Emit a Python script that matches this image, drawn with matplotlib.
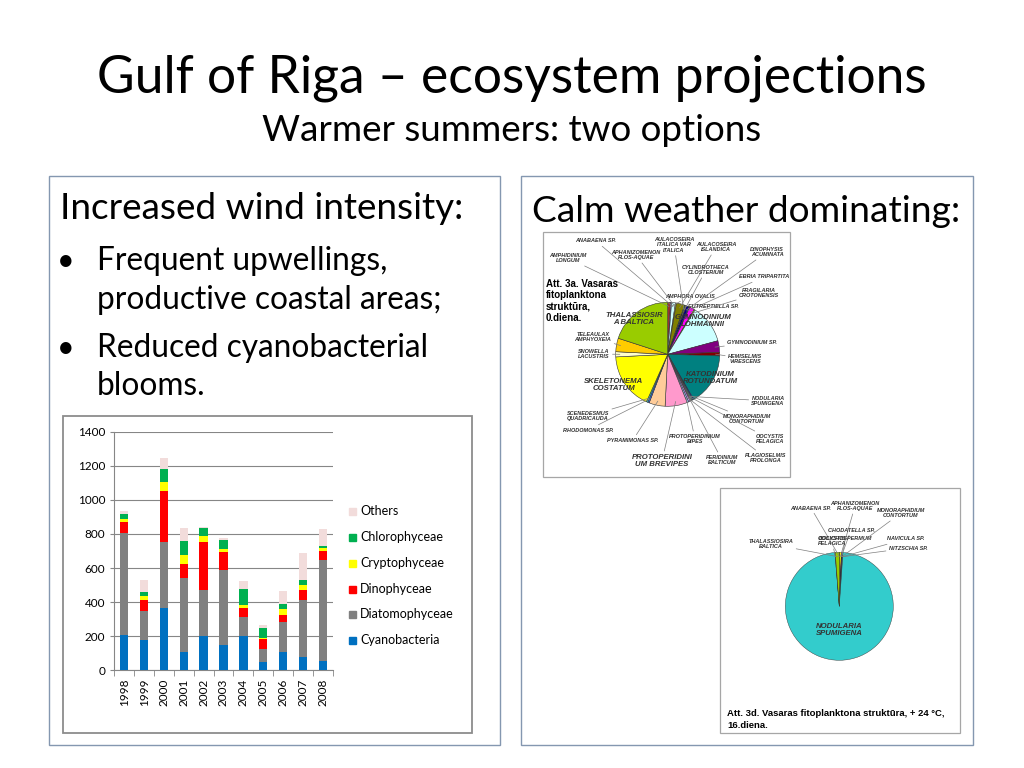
import numpy as np
import matplotlib.pyplot as plt
from matplotlib.patches import Rectangle

# stacked bar data (cells / biomass per year)
years = ['1998', '1999', '2000', '2001', '2002', '2003', '2004', '2005', '2006', '2007', '2008']
groups = ['Cyanobacteria', 'Diatomophyceae', 'Dinophyceae', 'Cryptophyceae', 'Chlorophyceae', 'Others']
cyano = [205, 175, 365, 110, 200, 147, 200, 51, 110, 80, 57]
diatom = [600, 175, 390, 432, 270, 440, 110, 74, 172, 332, 590]
dino = [65, 60, 297, 80, 280, 105, 53, 57, 43, 61, 53]
crypto = [15, 27, 55, 56, 40, 20, 21, 6, 35, 25, 19]
chloro = [30, 25, 72, 80, 43, 52, 92, 62, 31, 32, 12]
others = [20, 65, 65, 77, 10, 14, 49, 16, 76, 156, 98]
bar_colors = ['#0070c0', '#808080', '#ff0000', '#ffff00', '#00b050', '#f2dcdb']

# pie 1: day 0 structure, clockwise from top (percent)
pie1_names = ['AMPHIDINIUM\nLONGUM', 'AMPHORA OVALIS', 'ANABAENA SP.', 'APHANIZOMENON\nFLOS-AQUAE',
              'AULACOSEIRA\nISLANDICA', 'AULACOSEIRA\nITALICA VAR\nITALICA', 'CYLINDROTHECA\nCLOSTERIUM',
              'DINOPHYSIS\nACUMINATA', 'EBRIA TRIPARTITA', 'EUTREPTIELLA SP.', 'FRAGILARIA\nCROTONENSIS',
              'GYMNODINIUM\nLOHMANNII', 'GYMNODINIUM SP.', 'HEMISELMIS\nVIRESCENS', 'KATODINIUM\nROTUNDATUM',
              'MONORAPHIDIUM\nCONTORTUM', 'NODULARIA\nSPUMIGENA', 'OOCYSTIS\nPELAGICA', 'PERIDINIUM\nBALTICUM',
              'PLAGIOSELMIS\nPROLONGA', 'PROTOPERIDINIUM\nBIPES', 'PROTOPERIDINI\nUM BREVIPES',
              'PYRAMIMONAS SP.', 'RHODOMONAS SP.', 'SCENEDESMUS\nQUADRICAUDA', 'SKELETONEMA\nCOSTATUM',
              'SNOWELLA\nLACUSTRIS', 'TELEAULAX\nAMPHYOXEIA', 'THALASSIOSIR\nA BALTICA']
pie1_share = [0.9, 0.3, 1.2, 0.3, 2.6, 0.3, 0.3, 0.8, 0.3, 1.5, 0.3,
              12.0, 3.6, 1.1, 16.2, 0.3, 0.3, 0.3, 0.3, 0.5, 0.5, 6.9,
              5.0, 0.45, 0.45, 17.5, 1.6, 4.2, 20.0]
pie1_colors = ['#993333', '#cc99ff', '#ccffff', '#ffff99', '#808000', '#339966', '#ffcc99',
               '#000080', '#0000ff', '#ff00ff', '#ffff00', '#ccffff', '#800080', '#800000', '#008080',
               '#0000ff', '#33cccc', '#ccffcc', '#ff99cc', '#cc99ff', '#99ccff', '#ff99cc',
               '#ffcc99', '#3366ff', '#33cccc', '#ffff00', '#ffffcc', '#ffcc00', '#99cc00']

# pie 2: +24 C, day 16
pie2_names = ['ANABAENA SP.', 'APHANIZOMENON\nFLOS-AQUAE', 'CHODATELLA SP.', 'DOLICHOSPERMUM',
              'MONORAPHIDIUM\nCONTORTUM', 'NAVICULA SP.', 'NITZSCHIA SP.', 'NODULARIA\nSPUMIGENA',
              'OOCYSTIS\nPELAGICA', 'THALASSIOSIRA\nBALTICA']
pie2_share = [0.1, 0.5, 0.1, 0.1, 0.1, 0.1, 0.1, 97.6, 0.1, 1.2]
pie2_colors = ['#ccffff', '#ffff00', '#ff00ff', '#000080', '#0000ff', '#ff99cc', '#99ccff',
               '#33cccc', '#ccffcc', '#99cc00']

# label placement (slide pixels)
pie1_label_pos = {
    'AMPHIDINIUM\nLONGUM': (568, 258), 'AMPHORA OVALIS': (690, 296), 'ANABAENA SP.': (596, 241),
    'APHANIZOMENON\nFLOS-AQUAE': (636, 255), 'AULACOSEIRA\nISLANDICA': (716, 247),
    'AULACOSEIRA\nITALICA VAR\nITALICA': (674, 245), 'CYLINDROTHECA\nCLOSTERIUM': (706, 270),
    'DINOPHYSIS\nACUMINATA': (767, 252), 'EBRIA TRIPARTITA': (764, 277), 'EUTREPTIELLA SP.': (713, 306),
    'FRAGILARIA\nCROTONENSIS': (759, 293), 'GYMNODINIUM SP.': (752, 343),
    'HEMISELMIS\nVIRESCENS': (745, 359), 'MONORAPHIDIUM\nCONTORTUM': (747, 419),
    'NODULARIA\nSPUMIGENA': (768, 401), 'OOCYSTIS\nPELAGICA': (770, 439),
    'PERIDINIUM\nBALTICUM': (722, 460), 'PLAGIOSELMIS\nPROLONGA': (766, 458),
    'PROTOPERIDINIUM\nBIPES': (695, 439), 'PROTOPERIDINI\nUM BREVIPES': (662, 461),
    'PYRAMIMONAS SP.': (633, 440), 'RHODOMONAS SP.': (588, 430),
    'SCENEDESMUS\nQUADRICAUDA': (588, 416), 'SNOWELLA\nLACUSTRIS': (594, 354),
    'TELEAULAX\nAMPHYOXEIA': (593, 337),
}
pie1_inside = {'GYMNODINIUM\nLOHMANNII': (703, 321), 'KATODINIUM\nROTUNDATUM': (710, 378),
               'SKELETONEMA\nCOSTATUM': (614, 385), 'THALASSIOSIR\nA BALTICA': (634, 319)}
pie2_label_pos = {
    'ANABAENA SP.': (811, 508), 'APHANIZOMENON\nFLOS-AQUAE': (855, 506),
    'MONORAPHIDIUM\nCONTORTUM': (901, 513), 'CHODATELLA SP.': (851, 530),
    'DOLICHOSPERMUM': (846, 538), 'OOCYSTIS\nPELAGICA': (832, 541),
    'THALASSIOSIRA\nBALTICA': (771, 544), 'NAVICULA SP.': (906, 539), 'NITZSCHIA SP.': (908, 548),
}
pie2_inside = {'NODULARIA\nSPUMIGENA': (839, 630)}

W, H = 1024, 768
font = 'Lato'
fig = plt.figure(figsize=(W / 100, H / 100), dpi=100)
fig.patch.set_facecolor('white')

slide = fig.add_axes([0, 0, 1, 1])
slide.set_xlim(0, W)
slide.set_ylim(H, 0)
slide.axis('off')


def px_axes(x0, y0, x1, y1):
    return fig.add_axes([x0 / W, 1 - y1 / H, (x1 - x0) / W, (y1 - y0) / H])


# slide text
slide.text(512, 92, 'Gulf of Riga \u2013 ecosystem projections', family=font, fontsize=37.2,
           ha='center', va='baseline')
slide.text(512, 141, 'Warmer summers: two options', family=font, fontsize=26.5,
           ha='center', va='baseline')

slide.add_patch(Rectangle((49, 176), 451, 569, fill=False, ec='#8497b0', lw=1))
slide.add_patch(Rectangle((521, 176), 452, 569, fill=False, ec='#8497b0', lw=1))

slide.text(60, 219, 'Increased wind intensity:', family=font, fontsize=26.6, va='baseline')
bullets = [('Frequent upwellings,', 270), ('productive coastal areas;', 309),
           ('Reduced cyanobacterial', 357), ('blooms.', 395)]
for i, (line, yb) in enumerate(bullets):
    if i in (0, 2):
        slide.text(57, yb, '\u2022', family=font, fontsize=22, va='baseline')
    slide.text(97, yb, line, family=font, fontsize=22.8, va='baseline')
slide.text(532, 222, 'Calm weather dominating:', family=font, fontsize=26.7, va='baseline')

# bar chart
slide.add_patch(Rectangle((63, 416), 409, 317, fill=False, ec='#8c8c8c', lw=1.3))
ax = px_axes(114.3, 431.7, 332.7, 670.3)
x = np.arange(len(years))
series = [cyano, diatom, dino, crypto, chloro, others]
bottom = np.zeros(len(years))
for name, vals, c in zip(groups, series, bar_colors):
    ax.bar(x, vals, width=0.42, bottom=bottom, color=c, label=name, zorder=3)
    bottom += np.array(vals)
ax.set_xlim(-0.5, len(years) - 0.5)
ax.set_ylim(0, 1400)
ax.set_yticks(np.arange(0, 1401, 200))
ax.yaxis.grid(True, color='#868686', lw=0.8)
ax.set_axisbelow(True)
for s in ['top', 'right']:
    ax.spines[s].set_visible(False)
for s in ['left', 'bottom']:
    ax.spines[s].set_color('#868686')
ax.set_xticks(x)
ax.set_xticklabels(years, rotation=90, family=font, fontsize=8.5)
ax.set_xticks(np.arange(-0.5, len(years), 1), minor=True)
ax.tick_params(axis='x', which='major', length=0, pad=6)
ax.tick_params(axis='x', which='minor', length=4, color='#868686')
ax.tick_params(axis='y', length=3, color='#868686', labelsize=8.5)
for t in ax.get_yticklabels():
    t.set_family(font)
ax.patch.set_alpha(0)

# legend, drawn top to bottom in reverse stacking order
leg_y = [511, 537, 563, 589, 614, 640]
for yy, name, c in zip(leg_y, groups[::-1], bar_colors[::-1]):
    slide.add_patch(Rectangle((349, yy - 3.5), 7, 7, color=c))
    slide.text(360, yy, name, family=font, fontsize=9, va='center')


def draw_pie(box, center, radius, shares, colors, names, label_pos, inside, lw):
    pa = px_axes(*box)
    wedges, _ = pa.pie(shares, colors=colors, center=center, radius=radius, startangle=-90,
                       counterclock=True, wedgeprops=dict(edgecolor='#333333', linewidth=lw))
    pa.set_xlim(box[0], box[2])
    pa.set_ylim(box[3], box[1])
    pa.set_aspect('auto')
    pa.axis('off')
    pa.add_patch(Rectangle((0, 0), 1, 1, transform=pa.transAxes, fill=False,
                           ec='#a6a6a6', lw=0.9, clip_on=False))
    lab = dict(family='Liberation Sans', style='italic', weight='bold', color='#333333',
               ha='center', va='center', linespacing=1.1)
    for w, name in zip(wedges, names):
        if name in label_pos:
            mid = np.deg2rad((w.theta1 + w.theta2) / 2)
            tx = center[0] + 0.92 * radius * np.cos(mid)
            ty = center[1] + 0.92 * radius * np.sin(mid)
            fs = 5.6 if 'BREVIPES' in name else 4.0
            pa.annotate(name, xy=(tx, ty), xytext=label_pos[name], fontsize=fs, **lab,
                        arrowprops=dict(arrowstyle='-', color='#7f7f7f', lw=0.5,
                                        shrinkA=0, shrinkB=0))
        elif name in inside:
            pa.text(*inside[name], name, fontsize=5.6, **lab)
    return pa


pie1 = draw_pie((543, 232, 790, 477), (667.7, 354.3), 52, pie1_share, pie1_colors,
                pie1_names, pie1_label_pos, pie1_inside, 0.4)
for k, line in enumerate(['Att. 3a. Vasaras', 'fitoplanktona', 'strukt\u016bra,', '0.diena.']):
    pie1.text(546, 279 + k * 11.2, line, family='Liberation Sans', weight='bold',
              fontsize=7, va='top')

pie2 = draw_pie((720, 488, 960, 733), (839.3, 606.3), 54, pie2_share, pie2_colors,
                pie2_names, pie2_label_pos, pie2_inside, 0.3)
pie2.text(727, 709, 'Att. 3d. Vasaras fitoplanktona strukt\u016bra, + 24 \u00b0C,\n16.diena.',
          family='Liberation Sans', weight='bold', fontsize=6.8, va='top', linespacing=1.5,
          clip_on=True)

fig.savefig('out.png', dpi=100)
